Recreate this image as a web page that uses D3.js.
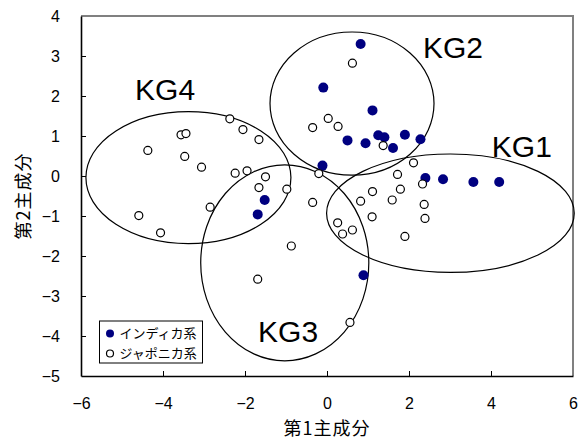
<!DOCTYPE html>
<html>
<head>
<meta charset="utf-8">
<script src="https://cdn.jsdelivr.net/npm/d3@7"></script>
<style>
  body { margin: 0; background: #fff; }
  svg { display: block; }
  .tick text { font-family: "Liberation Sans", Arial, sans-serif; font-size: 16px; fill: #000; }
</style>
</head>
<body>
<svg id="chart" width="581" height="441"></svg>
<script>
// indica (filled) points: [PC1, PC2]
var indica = [
  [0.82, 3.30], [-0.09, 2.21], [1.11, 1.64], [0.50, 0.89], [0.94, 0.82],
  [1.25, 1.02], [1.40, 0.97], [1.61, 0.70], [1.90, 1.03], [2.28, 0.92],
  [-0.11, 0.26], [2.40, -0.05], [2.83, -0.08], [3.57, -0.15], [4.20, -0.15],
  [-1.52, -0.60], [-1.69, -0.96], [0.89, -2.48]
];

// japonica (open) points
var japonica = [
  [0.62, 2.82], [0.03, 1.44], [0.27, 1.24], [-0.35, 1.21], [1.37, 0.76],
  [-0.20, 0.06], [2.11, 0.33], [1.72, 0.04], [2.33, -0.20],
  [1.79, -0.33], [1.11, -0.39], [1.59, -0.60], [0.82, -0.63], [2.37, -0.71],
  [2.39, -1.06], [1.10, -1.02], [0.26, -1.17], [0.62, -1.35], [0.38, -1.45],
  [1.90, -1.51], [-0.35, -0.66],
  [-2.37, 1.43], [-2.05, 1.16], [-1.66, 0.91], [-4.37, 0.64], [-3.56, 1.03],
  [-3.44, 1.06], [-3.47, 0.49], [-3.06, 0.22], [-2.24, 0.07], [-1.95, 0.13],
  [-1.50, -0.02], [-1.66, -0.29], [-0.98, -0.33], [-2.85, -0.78],
  [-4.59, -0.99], [-4.06, -1.42],
  [-0.87, -1.75], [-1.69, -2.58], [0.56, -3.66]
];

// groups: name, centre and radii in PC units
var groupNames = ['KG1', 'KG2', 'KG3', 'KG4'];
var groupCx = [3.01, 0.61, -1.03, -3.38];
var groupCy = [-0.93, 1.81, -2.17, -0.04];
var groupRx = [3.02, 2.00, 2.05, 2.50];
var groupRy = [1.48, 1.79, 2.45, 1.65];
var groupLabelX = [4.02, 2.34, -1.68, -4.68];
var groupLabelY = [0.475, 2.95, -4.15, 1.90];

var xTicks = [-6, -4, -2, 0, 2, 4, 6];
var yTicks = [-5, -4, -3, -2, -1, 0, 1, 2, 3, 4];
var legendLabels = ['インディカ系', 'ジャポニカ系'];

var svg = d3.select('#chart');
var x = d3.scaleLinear().domain([-6, 6]).range([81, 573]);
var y = d3.scaleLinear().domain([-5, 4]).range([376, 16]);
var jp = '"Noto Sans CJK JP", "Noto Sans", sans-serif';

// plot frame: grey top/right
svg.append('path')
  .attr('d', 'M' + x(-6) + ',' + y(4) + 'H' + x(6) + 'V' + y(-5))
  .attr('fill', 'none')
  .attr('stroke', '#808080')
  .attr('stroke-width', 2);

// axes, ticks pointing inward
var yAxis = svg.append('g')
  .attr('transform', 'translate(' + x(-6) + ',0)')
  .call(d3.axisLeft(y).tickValues(yTicks).tickSizeInner(-5).tickSizeOuter(0).tickPadding(21));
var xAxis = svg.append('g')
  .attr('transform', 'translate(0,' + y(-5) + ')')
  .call(d3.axisBottom(x).tickValues(xTicks).tickSizeInner(-5).tickSizeOuter(0).tickPadding(22));
[xAxis, yAxis].forEach(function (a) {
  a.select('.domain').attr('stroke', '#000').attr('stroke-width', 1.6);
  a.selectAll('.tick line').attr('stroke', '#000').attr('stroke-width', 1);
});
xAxis.selectAll('.tick').filter(function (d) { return d === -6 || d === 6; }).select('line').remove();
yAxis.selectAll('.tick').filter(function (d) { return d === -5 || d === 4; }).select('line').remove();

// axis titles
svg.append('text')
  .attr('x', x(0))
  .attr('y', 435)
  .attr('text-anchor', 'middle')
  .attr('font-family', jp)
  .attr('font-size', 18)
  .attr('letter-spacing', 1)
  .text('第1主成分');
svg.append('text')
  .attr('transform', 'translate(30,' + y(-0.5) + ') rotate(-90)')
  .attr('text-anchor', 'middle')
  .attr('font-family', jp)
  .attr('font-size', 18)
  .attr('letter-spacing', 1)
  .text('第2主成分');

// group ellipses
svg.append('g').selectAll('ellipse')
  .data(groupNames)
  .enter().append('ellipse')
  .attr('cx', function (d, i) { return x(groupCx[i]); })
  .attr('cy', function (d, i) { return y(groupCy[i]); })
  .attr('rx', function (d, i) { return x(groupCx[i] + groupRx[i]) - x(groupCx[i]); })
  .attr('ry', function (d, i) { return y(groupCy[i]) - y(groupCy[i] + groupRy[i]); })
  .attr('fill', 'none')
  .attr('stroke', '#000')
  .attr('stroke-width', 1.2);

svg.append('g').selectAll('text')
  .data(groupNames)
  .enter().append('text')
  .attr('x', function (d, i) { return x(groupLabelX[i]); })
  .attr('y', function (d, i) { return y(groupLabelY[i]); })
  .attr('font-family', '"Liberation Sans", Arial, sans-serif')
  .attr('font-size', 30)
  .text(function (d) { return d; });

// points
svg.append('g').selectAll('circle')
  .data(indica)
  .enter().append('circle')
  .attr('cx', function (d) { return x(d[0]); })
  .attr('cy', function (d) { return y(d[1]); })
  .attr('r', 5)
  .attr('fill', '#000080');

svg.append('g').selectAll('circle')
  .data(japonica)
  .enter().append('circle')
  .attr('cx', function (d) { return x(d[0]); })
  .attr('cy', function (d) { return y(d[1]); })
  .attr('r', 4)
  .attr('fill', '#fff')
  .attr('stroke', '#000')
  .attr('stroke-width', 1.2);

// legend
var legend = svg.append('g').attr('transform', 'translate(99.5,321)');
legend.append('rect')
  .attr('width', 103)
  .attr('height', 42)
  .attr('fill', '#fff')
  .attr('stroke', '#000')
  .attr('stroke-width', 1);
var items = legend.selectAll('g.item')
  .data(legendLabels)
  .enter().append('g')
  .attr('class', 'item')
  .attr('transform', function (d, i) { return 'translate(0,' + (12.5 + i * 20) + ')'; });
items.append('circle')
  .attr('cx', 10.5)
  .attr('r', function (d, i) { return i ? 3.5 : 4; })
  .attr('fill', function (d, i) { return i ? '#fff' : '#000080'; })
  .attr('stroke', function (d, i) { return i ? '#000' : 'none'; })
  .attr('stroke-width', 1.2);
items.append('text')
  .attr('x', 20)
  .attr('dy', '0.38em')
  .attr('font-family', jp)
  .attr('font-size', 13)
  .text(function (d) { return d; });
</script>
</body>
</html>
